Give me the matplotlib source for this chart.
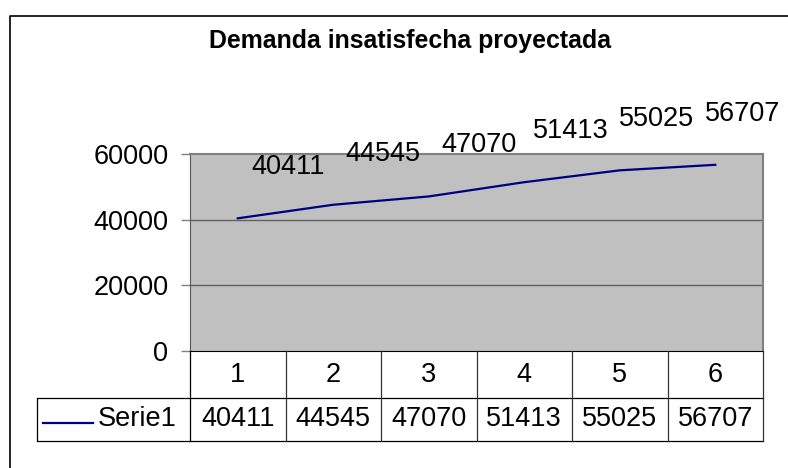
import numpy as np
import matplotlib
matplotlib.use("Agg")
import matplotlib.pyplot as plt
from matplotlib.lines import Line2D

plt.rcParams['font.family'] = ['Liberation Sans', 'DejaVu Sans']

title = "Demanda insatisfecha proyectada"
periods = ["1", "2", "3", "4", "5", "6"]
serie1 = [40411, 44545, 47070, 51413, 55025, 56707]
series_name = "Serie1"
yticks = [0, 20000, 40000, 60000]

W, H = 788, 468
fs = 19.5
fig = plt.figure(figsize=(W / 100, H / 100), dpi=100)

# plot area in pixel units (left, top, right, bottom)
pl, pt, pr, pb = 190, 154, 763, 351
ax = fig.add_axes([pl / W, 1 - pb / H, (pr - pl) / W, (pb - pt) / H])
ax.set_facecolor("#c0c0c0")

x = np.arange(len(serie1))
ax.plot(x, serie1, color="#000080", lw=1.6)
ax.set_xlim(-0.5, len(serie1) - 0.5)
ax.set_ylim(0, 60000)

ax.set_yticks(yticks)
ax.set_yticklabels([str(v) for v in yticks], fontsize=fs)
ax.tick_params(axis="y", length=6.5, width=1, color="#808080", pad=9)
ax.set_xticks([])
for v in yticks[1:-1]:
    ax.axhline(v, color="#606060", lw=1)
for side in ["top", "right"]:
    ax.spines[side].set_color("#808080")
    ax.spines[side].set_linewidth(1.5)
ax.spines["left"].set_color("#555555")
ax.spines["bottom"].set_color("#000000")

# data labels above and right of each point, kept inside the chart
# and pushed apart so they do not overlap
fig.canvas.draw()
pts = [ax.transData.transform((xi, v)) for xi, v in zip(x, serie1)]
centers = [p[0] + 50 for p in pts]
centers[-1] = min(centers[-1], 743)
for i in range(len(centers) - 2, -1, -1):
    centers[i] = min(centers[i], centers[i + 1] - 86)
for (px, py), cx, xi, v in zip(pts, centers, x, serie1):
    ax.annotate(str(v), (xi, v), xytext=(cx - px, 51), textcoords="offset pixels",
                ha="center", va="center", fontsize=fs, annotation_clip=False)

# data table below the plot
def fx(p):
    return p / W

def fy(p):
    return 1 - p / H

r0, r1, r2 = 351, 398, 441
legend_left = 37
colw = (pr - pl) / len(periods)
lc = "#000000"
fig.add_artist(Line2D([fx(pl), fx(pl)], [fy(r0), fy(r2)], color=lc, lw=0.9))
fig.add_artist(Line2D([fx(legend_left), fx(pr)], [fy(r1), fy(r1)], color=lc, lw=0.9))
fig.add_artist(Line2D([fx(legend_left), fx(pr)], [fy(r2), fy(r2)], color=lc, lw=0.9))
fig.add_artist(Line2D([fx(legend_left), fx(legend_left)], [fy(r1), fy(r2)], color=lc, lw=0.9))
for i in range(1, len(periods) + 1):
    xb = pl + i * colw
    fig.add_artist(Line2D([fx(xb), fx(xb)], [fy(r0), fy(r2)], color="#333333", lw=0.9))
for i, (lab, v) in enumerate(zip(periods, serie1)):
    cx = pl + (i + 0.5) * colw
    fig.text(fx(cx), fy((r0 + r1) / 2), lab, ha="center", va="center", fontsize=fs)
    fig.text(fx(cx), fy((r1 + r2) / 2), str(v), ha="center", va="center", fontsize=fs)
fig.add_artist(Line2D([fx(43), fx(93)], [fy(423), fy(423)], color="#000080", lw=1.6))
fig.text(fx(98), fy((r1 + r2) / 2), series_name, ha="left", va="center", fontsize=fs)

# chart border (extends beyond the image on the right and bottom)
fig.add_artist(Line2D([fx(10), fx(10), fx(W + 5)], [fy(H + 5), fy(16), fy(16)],
                      color="#000000", lw=1.2))

fig.text(fx(410), fy(48), title, ha="center", va="baseline", fontsize=17.9,
         fontweight="bold")

fig.savefig("out.png", dpi=100)
